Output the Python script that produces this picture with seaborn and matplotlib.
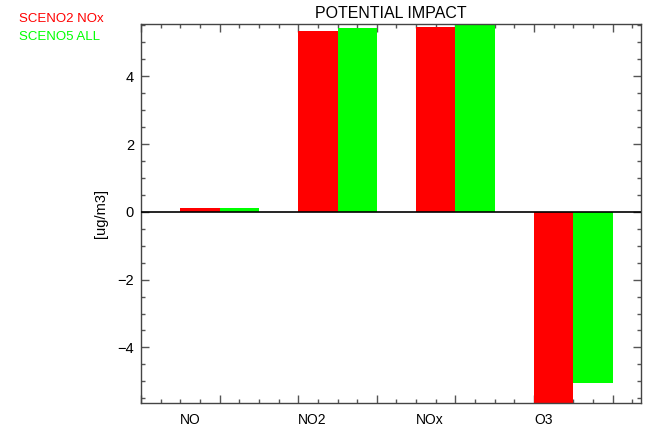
import numpy as np
import pandas as pd
import matplotlib
matplotlib.use('Agg')
import matplotlib.pyplot as plt
import matplotlib.transforms as mtransforms
from matplotlib.ticker import MultipleLocator, FixedLocator, NullFormatter
import seaborn as sns

# data
species = ['NO', 'NO2', 'NOx', 'O3']
scenarios = ['SCENO2 NOx', 'SCENO5 ALL']
scen02_nox = [0.12, 5.33, 5.44, -5.75]
scen05_all = [0.12, 5.42, 5.58, -5.06]
colors = ['#ff0000', '#00ff00']

sns.set_style('white')
plt.rcParams['font.family'] = ['Liberation Sans', 'DejaVu Sans']
plt.rcParams['text.color'] = 'black'
plt.rcParams['axes.labelcolor'] = 'black'

df = pd.DataFrame({
    'species': species * 2,
    'scenario': [scenarios[0]] * len(species) + [scenarios[1]] * len(species),
    'value': scen02_nox + scen05_all,
})

fig = plt.figure(figsize=(6.54, 4.34), dpi=100)
ax = fig.add_axes([0.2156, 0.0721, 0.7645, 0.8726])

sns.barplot(data=df, x='species', y='value', hue='scenario', order=species,
            hue_order=scenarios, palette=colors, width=2 / 3, dodge=True,
            saturation=1, legend=False, errorbar=None, linewidth=0, ax=ax)

# one seaborn category unit = 3 bar widths
ax.set_xlim(-2 / 3, -2 / 3 + 12.72 / 3)
ax.set_ylim(-5.63, 5.54)
ax.axhline(0, color='black', lw=1.2, zorder=5)

ax.xaxis.set_major_locator(FixedLocator(np.arange(-2 / 3, 3.6, 2 / 3)))
ax.xaxis.set_minor_locator(FixedLocator(np.arange(-2 / 3, 3.6, 1 / 6)))
ax.xaxis.set_major_formatter(NullFormatter())
ax.yaxis.set_major_locator(MultipleLocator(2))
ax.yaxis.set_minor_locator(MultipleLocator(0.5))
ax.set_yticks([-4, -2, 0, 2, 4])
ax.set_yticklabels(['\u22124', '\u22122', '0', '2', '4'])

ax.tick_params(which='both', direction='in', top=True, right=True,
               bottom=True, left=True, color='#555555', width=1)
ax.tick_params(which='major', length=6)
ax.tick_params(which='minor', length=3)
ax.tick_params(axis='y', labelsize=10.5, pad=5, labelcolor='black')
for s in ax.spines.values():
    s.set_color('#444444')
    s.set_linewidth(1)

ax.set_xlabel('')
ax.set_ylabel('[ug/m3]', fontsize=10.5, labelpad=7)

# category names left aligned under the red bar
trans = mtransforms.blended_transform_factory(ax.transData, ax.transAxes)
for i, name in enumerate(species):
    ax.text(i - 1 / 3, -0.027, name, transform=trans, ha='left', va='top',
            fontsize=10)

ax.set_title('POTENTIAL IMPACT', fontsize=11.5, pad=4)

fig.text(19 / 654, 1 - 19 / 434, scenarios[0], color=colors[0], fontsize=9.5,
         ha='left', va='center')
fig.text(19 / 654, 1 - 37 / 434, scenarios[1], color=colors[1], fontsize=9.5,
         ha='left', va='center')

fig.savefig('out.png', dpi=100)
